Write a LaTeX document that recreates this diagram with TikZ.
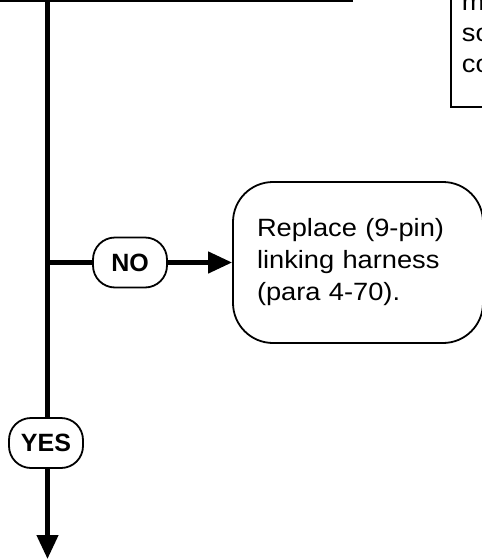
\documentclass[tikz,border=0pt]{standalone}
\usepackage{fontspec}
\setmainfont{Liberation Sans}
\newfontfamily\widefont[FakeStretch=1.09]{Liberation Sans}
\usetikzlibrary{positioning,arrows.meta}

\begin{document}
\begin{tikzpicture}[x=1pt, y=-1pt,
    flow/.style={line width=4.5pt},
    arrow/.style={flow, -{Triangle[length=24pt,width=21pt]}},
    answer/.style={rectangle, draw=black, line width=1.8pt, rounded corners=22pt,
        minimum width=74pt, minimum height=50pt, inner sep=0pt,
        font=\bfseries\fontsize{25}{25}\selectfont},
    action/.style={rectangle, draw=black, line width=1.8pt, rounded corners=40pt,
        text width=202pt, inner xsep=24pt, minimum height=161pt, align=left,
        font=\widefont\fontsize{25}{32}\selectfont}
]
\useasboundingbox (0,0) rectangle (482,560);

% previous step (only its lower edge shows)
\node[rectangle, draw=black, line width=2pt, minimum width=420pt, minimum height=60pt,
    anchor=south east] (check) at (353,2) {};
\node[rectangle, draw=black, line width=1.8pt, anchor=south west, inner xsep=11pt,
    inner ysep=34pt, align=left, font=\widefont\fontsize{25}{31}\selectfont] (note) at (450,108)
    {m\\so\\co};

% answers
\node[answer] (yes) at (46,443) {YES};
\node[answer] (no) at (130,262.5) {NO};
\node[action] (fix) at (358,262.5) {Replace (9-pin)\\linking harness\\(para 4-70).};
\coordinate (next) at (47.5,559);

\draw[flow] (check.south -| next) -- (yes.north -| next);
\draw[flow] (no.west -| next) -- (no.west);
\draw[arrow] (no.east) -- (fix.west);
\draw[arrow] (yes.south -| next) -- (next);

\end{tikzpicture}
\end{document}
